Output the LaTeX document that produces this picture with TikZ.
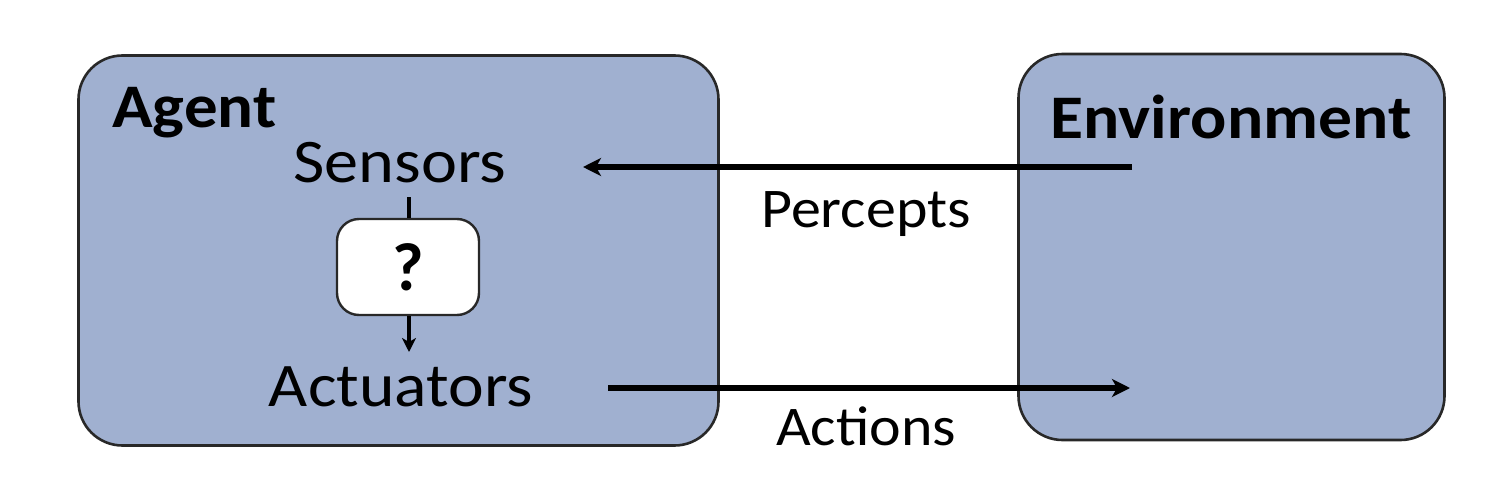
\documentclass[tikz,border=0pt]{standalone}
\usepackage{fontspec}
\setmainfont{Carlito}
\usetikzlibrary{arrows.meta}
\definecolor{boxblue}{RGB}{160,176,208}
\definecolor{boxline}{RGB}{40,40,40}
\newcommand{\widetxt}[2][1.08]{\scalebox{#1}[1]{#2}}
\begin{document}
\begin{tikzpicture}[x=0.5pt,y=-0.5pt,
  bigbox/.style={draw=boxline,line width=1.3pt,fill=boxblue,rounded corners=22pt,inner sep=0pt},
  qbox/.style={draw=boxline,line width=1.2pt,fill=white,rounded corners=11pt,inner sep=0pt,minimum width=71pt,minimum height=48pt},
  bigtxt/.style={inner sep=0pt,font=\fontsize{31pt}{36pt}\selectfont},
  boldtxt/.style={inner sep=0pt,font=\fontsize{31pt}{36pt}\selectfont\bfseries},
  lbltxt/.style={inner sep=0pt,font=\fontsize{28pt}{33pt}\selectfont},
  flow/.style={line width=2.6pt,-{Stealth[length=9pt,width=9pt,inset=2.5pt]}},
  inner/.style={line width=1.7pt,-{Stealth[length=7pt,width=7pt,inset=2pt]}}]
\useasboundingbox (0,0) rectangle (1494,482);
\node[bigbox,minimum width=320pt,minimum height=195pt] (agent) at (398.5,250.5) {};
\node[bigbox,minimum width=213pt,minimum height=193pt] (env) at (1231.5,247) {};
\node[boldtxt,anchor=base west] (agentlbl) at (112,127) {\widetxt{Agent}};
\node[boldtxt,anchor=base] (envlbl) at (1231,138) {\widetxt[1.09]{Environment}};
\node[bigtxt,anchor=base] (sensors) at (400,182) {\widetxt[1.1]{Sensors}};
\node[bigtxt,anchor=base] (act) at (401,406) {\widetxt[1.09]{Actuators}};
\node[qbox] (q) at (408,267) {\fontsize{34pt}{38pt}\selectfont\bfseries ?};
\coordinate (stop) at (409,197);
\coordinate (abot) at (409,352);
\draw[line width=1.7pt] (stop) -- (stop |- q.north);
\draw[inner] (abot |- q.south) -- (abot);
\coordinate (pstart) at (1132,167);
\coordinate (pend) at (583,167);
\coordinate (astart) at (608,388);
\coordinate (aend) at (1130,388);
\draw[flow] (pstart) -- (pend);
\draw[flow] (astart) -- (aend);
\node[lbltxt,anchor=base] (percepts) at (866,227) {\widetxt[1.07]{Percepts}};
\node[lbltxt,anchor=base] (actions) at (866,445) {\widetxt[1.07]{Actions}};
\end{tikzpicture}
\end{document}
